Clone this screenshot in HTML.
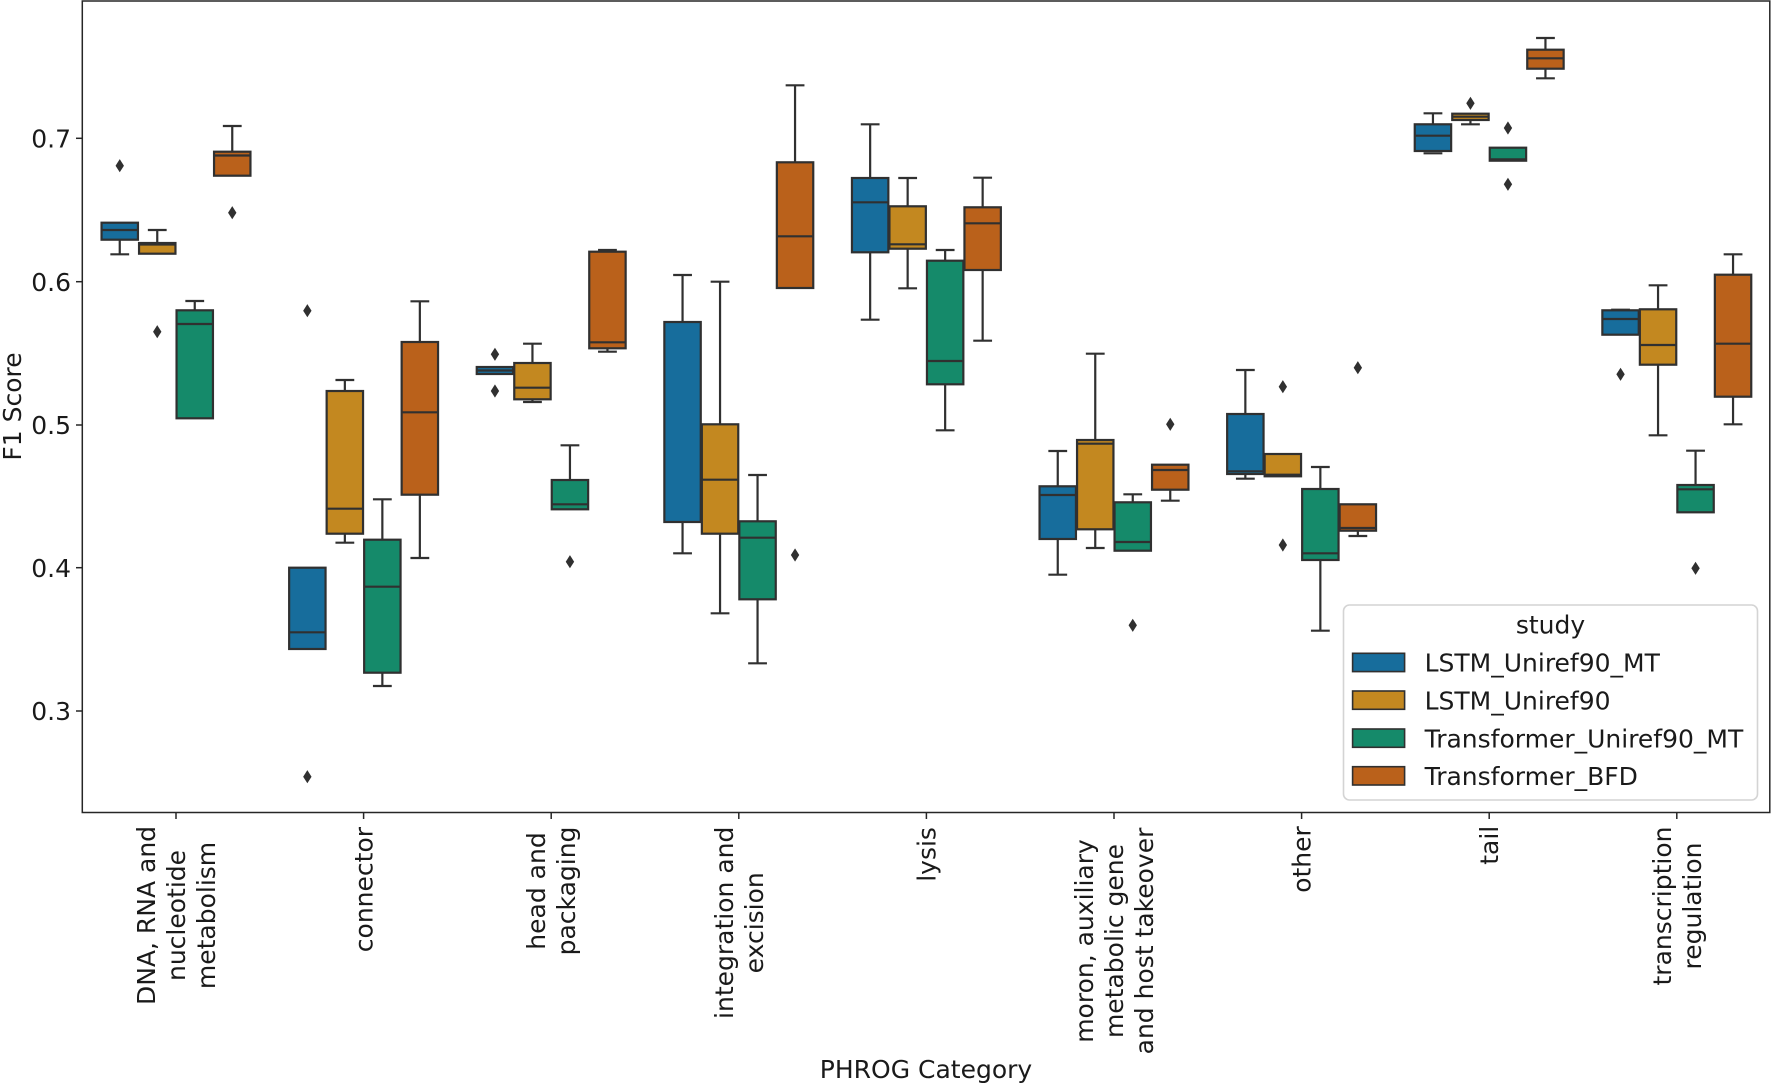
<!DOCTYPE html>
<html><head><meta charset="utf-8"><style>
html,body{margin:0;padding:0;background:#fff;}
svg{display:block;}
text{font-family:"DejaVu Sans","Liberation Sans",sans-serif;font-size:25px;fill:#1a1a1a;}
.bx line{stroke:#303030;stroke-width:2.2;}
.bx rect{stroke:#303030;stroke-width:2.2;}
.c0{fill:#176d9c}.c1{fill:#c38820}.c2{fill:#158a6a}.c3{fill:#ba611b}
</style></head><body>
<svg width="1772" height="1085" viewBox="0 0 1772 1085" xmlns="http://www.w3.org/2000/svg">
<defs><path id="dm" d="M0,-6.6 L4.2,0 L0,6.6 L-4.2,0Z" fill="#303030"/></defs>
<rect x="0" y="0" width="1772" height="1085" fill="#fff"/>

<!-- Group 0 -->
<g class="bx" transform="translate(119.75,0)"><line x1="0" y1="239.7" x2="0" y2="254.3"/><line x1="-9.4" y1="254.3" x2="9.4" y2="254.3"/><rect class="c0" x="-18.2" y="222.7" width="36.4" height="17"/><line x1="-18.2" y1="230" x2="18.2" y2="230"/><use href="#dm" y="165.7"/></g>
<g class="bx" transform="translate(157.25,0)"><line x1="0" y1="230" x2="0" y2="243"/><line x1="-9.4" y1="230" x2="9.4" y2="230"/><rect class="c1" x="-18.2" y="243" width="36.4" height="10.7"/><line x1="-18.2" y1="244.5" x2="18.2" y2="244.5"/><use href="#dm" y="331.7"/></g>
<g class="bx" transform="translate(194.75,0)"><line x1="0" y1="301" x2="0" y2="310.3"/><line x1="-9.4" y1="301" x2="9.4" y2="301"/><rect class="c2" x="-18.2" y="310.3" width="36.4" height="108"/><line x1="-18.2" y1="324" x2="18.2" y2="324"/></g>
<g class="bx" transform="translate(232.25,0)"><line x1="0" y1="126" x2="0" y2="151.7"/><line x1="-9.4" y1="126" x2="9.4" y2="126"/><rect class="c3" x="-18.2" y="151.7" width="36.4" height="24"/><line x1="-18.2" y1="155.5" x2="18.2" y2="155.5"/><use href="#dm" y="212.7"/></g>

<!-- Group 1 -->
<g class="bx" transform="translate(307.35,0)"><rect class="c0" x="-18.2" y="567.7" width="36.4" height="81.3"/><line x1="-18.2" y1="632.3" x2="18.2" y2="632.3"/><use href="#dm" y="310.7"/><use href="#dm" y="776.7"/></g>
<g class="bx" transform="translate(344.85,0)"><line x1="0" y1="380" x2="0" y2="391"/><line x1="0" y1="533.7" x2="0" y2="542.7"/><line x1="-9.4" y1="380" x2="9.4" y2="380"/><line x1="-9.4" y1="542.7" x2="9.4" y2="542.7"/><rect class="c1" x="-18.2" y="391" width="36.4" height="142.7"/><line x1="-18.2" y1="508.7" x2="18.2" y2="508.7"/></g>
<g class="bx" transform="translate(382.35,0)"><line x1="0" y1="499.3" x2="0" y2="539.7"/><line x1="0" y1="672.7" x2="0" y2="686"/><line x1="-9.4" y1="499.3" x2="9.4" y2="499.3"/><line x1="-9.4" y1="686" x2="9.4" y2="686"/><rect class="c2" x="-18.2" y="539.7" width="36.4" height="133"/><line x1="-18.2" y1="586.7" x2="18.2" y2="586.7"/></g>
<g class="bx" transform="translate(419.85,0)"><line x1="0" y1="301.3" x2="0" y2="342"/><line x1="0" y1="494.7" x2="0" y2="558"/><line x1="-9.4" y1="301.3" x2="9.4" y2="301.3"/><line x1="-9.4" y1="558" x2="9.4" y2="558"/><rect class="c3" x="-18.2" y="342" width="36.4" height="152.7"/><line x1="-18.2" y1="412.3" x2="18.2" y2="412.3"/></g>

<!-- Group 2 -->
<g class="bx" transform="translate(494.95,0)"><rect class="c0" x="-18.2" y="367" width="36.4" height="7"/><line x1="-18.2" y1="370.5" x2="18.2" y2="370.5"/><use href="#dm" y="354.3"/><use href="#dm" y="391"/></g>
<g class="bx" transform="translate(532.45,0)"><line x1="0" y1="343.7" x2="0" y2="363"/><line x1="0" y1="399.3" x2="0" y2="402"/><line x1="-9.4" y1="343.7" x2="9.4" y2="343.7"/><line x1="-9.4" y1="402" x2="9.4" y2="402"/><rect class="c1" x="-18.2" y="363" width="36.4" height="36.3"/><line x1="-18.2" y1="387.7" x2="18.2" y2="387.7"/></g>
<g class="bx" transform="translate(569.95,0)"><line x1="0" y1="445.3" x2="0" y2="480"/><line x1="-9.4" y1="445.3" x2="9.4" y2="445.3"/><rect class="c2" x="-18.2" y="480" width="36.4" height="29.3"/><line x1="-18.2" y1="504.3" x2="18.2" y2="504.3"/><use href="#dm" y="561.7"/></g>
<g class="bx" transform="translate(607.45,0)"><line x1="-9.4" y1="250" x2="9.4" y2="250"/><line x1="0" y1="348.3" x2="0" y2="351.7"/><line x1="-9.4" y1="351.7" x2="9.4" y2="351.7"/><rect class="c3" x="-18.2" y="251.7" width="36.4" height="96.6"/><line x1="-18.2" y1="342.3" x2="18.2" y2="342.3"/></g>

<!-- Group 3 -->
<g class="bx" transform="translate(682.55,0)"><line x1="0" y1="275" x2="0" y2="322"/><line x1="0" y1="522" x2="0" y2="553.3"/><line x1="-9.4" y1="275" x2="9.4" y2="275"/><line x1="-9.4" y1="553.3" x2="9.4" y2="553.3"/><rect class="c0" x="-18.2" y="322" width="36.4" height="200"/></g>
<g class="bx" transform="translate(720.05,0)"><line x1="0" y1="281.7" x2="0" y2="424.3"/><line x1="0" y1="533.7" x2="0" y2="613.3"/><line x1="-9.4" y1="281.7" x2="9.4" y2="281.7"/><line x1="-9.4" y1="613.3" x2="9.4" y2="613.3"/><rect class="c1" x="-18.2" y="424.3" width="36.4" height="109.4"/><line x1="-18.2" y1="479.7" x2="18.2" y2="479.7"/></g>
<g class="bx" transform="translate(757.55,0)"><line x1="0" y1="475" x2="0" y2="521.3"/><line x1="0" y1="599.3" x2="0" y2="663.3"/><line x1="-9.4" y1="475" x2="9.4" y2="475"/><line x1="-9.4" y1="663.3" x2="9.4" y2="663.3"/><rect class="c2" x="-18.2" y="521.3" width="36.4" height="78"/><line x1="-18.2" y1="537.7" x2="18.2" y2="537.7"/></g>
<g class="bx" transform="translate(795.05,0)"><line x1="0" y1="85.3" x2="0" y2="162.3"/><line x1="-9.4" y1="85.3" x2="9.4" y2="85.3"/><rect class="c3" x="-18.2" y="162.3" width="36.4" height="125.7"/><line x1="-18.2" y1="236.3" x2="18.2" y2="236.3"/><use href="#dm" y="555"/></g>

<!-- Group 4 -->
<g class="bx" transform="translate(870.15,0)"><line x1="0" y1="124.3" x2="0" y2="178"/><line x1="0" y1="252.3" x2="0" y2="319.7"/><line x1="-9.4" y1="124.3" x2="9.4" y2="124.3"/><line x1="-9.4" y1="319.7" x2="9.4" y2="319.7"/><rect class="c0" x="-18.2" y="178" width="36.4" height="74.3"/><line x1="-18.2" y1="202.3" x2="18.2" y2="202.3"/></g>
<g class="bx" transform="translate(907.65,0)"><line x1="0" y1="178" x2="0" y2="206.3"/><line x1="0" y1="248.7" x2="0" y2="288.3"/><line x1="-9.4" y1="178" x2="9.4" y2="178"/><line x1="-9.4" y1="288.3" x2="9.4" y2="288.3"/><rect class="c1" x="-18.2" y="206.3" width="36.4" height="42.4"/><line x1="-18.2" y1="244.3" x2="18.2" y2="244.3"/></g>
<g class="bx" transform="translate(945.15,0)"><line x1="0" y1="250" x2="0" y2="260.7"/><line x1="0" y1="384.3" x2="0" y2="430.3"/><line x1="-9.4" y1="250" x2="9.4" y2="250"/><line x1="-9.4" y1="430.3" x2="9.4" y2="430.3"/><rect class="c2" x="-18.2" y="260.7" width="36.4" height="123.6"/><line x1="-18.2" y1="361" x2="18.2" y2="361"/></g>
<g class="bx" transform="translate(982.65,0)"><line x1="0" y1="177.7" x2="0" y2="207.3"/><line x1="0" y1="270" x2="0" y2="340.7"/><line x1="-9.4" y1="177.7" x2="9.4" y2="177.7"/><line x1="-9.4" y1="340.7" x2="9.4" y2="340.7"/><rect class="c3" x="-18.2" y="207.3" width="36.4" height="62.7"/><line x1="-18.2" y1="223.3" x2="18.2" y2="223.3"/></g>

<!-- Group 5 -->
<g class="bx" transform="translate(1057.75,0)"><line x1="0" y1="451" x2="0" y2="486.3"/><line x1="0" y1="539" x2="0" y2="574.7"/><line x1="-9.4" y1="451" x2="9.4" y2="451"/><line x1="-9.4" y1="574.7" x2="9.4" y2="574.7"/><rect class="c0" x="-18.2" y="486.3" width="36.4" height="52.7"/><line x1="-18.2" y1="495" x2="18.2" y2="495"/></g>
<g class="bx" transform="translate(1095.25,0)"><line x1="0" y1="353.7" x2="0" y2="440"/><line x1="0" y1="529.3" x2="0" y2="548"/><line x1="-9.4" y1="353.7" x2="9.4" y2="353.7"/><line x1="-9.4" y1="548" x2="9.4" y2="548"/><rect class="c1" x="-18.2" y="440" width="36.4" height="89.3"/><line x1="-18.2" y1="443.7" x2="18.2" y2="443.7"/></g>
<g class="bx" transform="translate(1132.75,0)"><line x1="0" y1="494.3" x2="0" y2="502.3"/><line x1="-9.4" y1="494.3" x2="9.4" y2="494.3"/><rect class="c2" x="-18.2" y="502.3" width="36.4" height="48.4"/><line x1="-18.2" y1="542" x2="18.2" y2="542"/><use href="#dm" y="625.3"/></g>
<g class="bx" transform="translate(1170.25,0)"><line x1="0" y1="489.7" x2="0" y2="500.7"/><line x1="-9.4" y1="500.7" x2="9.4" y2="500.7"/><rect class="c3" x="-18.2" y="464.7" width="36.4" height="25"/><line x1="-18.2" y1="470" x2="18.2" y2="470"/><use href="#dm" y="424.3"/></g>

<!-- Group 6 -->
<g class="bx" transform="translate(1245.35,0)"><line x1="0" y1="370" x2="0" y2="414"/><line x1="0" y1="474" x2="0" y2="478.7"/><line x1="-9.4" y1="370" x2="9.4" y2="370"/><line x1="-9.4" y1="478.7" x2="9.4" y2="478.7"/><rect class="c0" x="-18.2" y="414" width="36.4" height="60"/><line x1="-18.2" y1="471.3" x2="18.2" y2="471.3"/></g>
<g class="bx" transform="translate(1282.85,0)"><rect class="c1" x="-18.2" y="454" width="36.4" height="22.3"/><line x1="-18.2" y1="474.7" x2="18.2" y2="474.7"/><use href="#dm" y="386.7"/><use href="#dm" y="545"/></g>
<g class="bx" transform="translate(1320.35,0)"><line x1="0" y1="467" x2="0" y2="489"/><line x1="0" y1="560" x2="0" y2="630.7"/><line x1="-9.4" y1="467" x2="9.4" y2="467"/><line x1="-9.4" y1="630.7" x2="9.4" y2="630.7"/><rect class="c2" x="-18.2" y="489" width="36.4" height="71"/><line x1="-18.2" y1="553.3" x2="18.2" y2="553.3"/></g>
<g class="bx" transform="translate(1357.85,0)"><line x1="0" y1="530.7" x2="0" y2="536"/><line x1="-9.4" y1="536" x2="9.4" y2="536"/><rect class="c3" x="-18.2" y="504.3" width="36.4" height="26.4"/><line x1="-18.2" y1="528" x2="18.2" y2="528"/><use href="#dm" y="367.7"/></g>

<!-- Group 7 -->
<g class="bx" transform="translate(1432.95,0)"><line x1="0" y1="113.3" x2="0" y2="124.3"/><line x1="-9.4" y1="113.3" x2="9.4" y2="113.3"/><line x1="-9.4" y1="153.3" x2="9.4" y2="153.3"/><rect class="c0" x="-18.2" y="124.3" width="36.4" height="26.7"/><line x1="-18.2" y1="135.7" x2="18.2" y2="135.7"/></g>
<g class="bx" transform="translate(1470.45,0)"><line x1="0" y1="120" x2="0" y2="124.3"/><line x1="-9.4" y1="124.3" x2="9.4" y2="124.3"/><rect class="c1" x="-18.2" y="113.7" width="36.4" height="6.3"/><line x1="-18.2" y1="116.7" x2="18.2" y2="116.7"/><use href="#dm" y="103.3"/></g>
<g class="bx" transform="translate(1507.95,0)"><rect class="c2" x="-18.2" y="147.7" width="36.4" height="13"/><line x1="-18.2" y1="159.3" x2="18.2" y2="159.3"/><use href="#dm" y="128"/><use href="#dm" y="184.3"/></g>
<g class="bx" transform="translate(1545.45,0)"><line x1="0" y1="38" x2="0" y2="49.7"/><line x1="0" y1="68.7" x2="0" y2="78.3"/><line x1="-9.4" y1="38" x2="9.4" y2="38"/><line x1="-9.4" y1="78.3" x2="9.4" y2="78.3"/><rect class="c3" x="-18.2" y="49.7" width="36.4" height="19"/><line x1="-18.2" y1="58.3" x2="18.2" y2="58.3"/></g>

<!-- Group 8 -->
<g class="bx" transform="translate(1620.55,0)"><line x1="-9.4" y1="309.7" x2="9.4" y2="309.7"/><rect class="c0" x="-18.2" y="310.3" width="36.4" height="24.4"/><line x1="-18.2" y1="319" x2="18.2" y2="319"/><use href="#dm" y="374.3"/></g>
<g class="bx" transform="translate(1658.05,0)"><line x1="0" y1="285.3" x2="0" y2="309.3"/><line x1="0" y1="364.7" x2="0" y2="435.3"/><line x1="-9.4" y1="285.3" x2="9.4" y2="285.3"/><line x1="-9.4" y1="435.3" x2="9.4" y2="435.3"/><rect class="c1" x="-18.2" y="309.3" width="36.4" height="55.4"/><line x1="-18.2" y1="345" x2="18.2" y2="345"/></g>
<g class="bx" transform="translate(1695.55,0)"><line x1="0" y1="450.7" x2="0" y2="485"/><line x1="-9.4" y1="450.7" x2="9.4" y2="450.7"/><rect class="c2" x="-18.2" y="485" width="36.4" height="27.3"/><line x1="-18.2" y1="489.3" x2="18.2" y2="489.3"/><use href="#dm" y="568.3"/></g>
<g class="bx" transform="translate(1733.05,0)"><line x1="0" y1="254.3" x2="0" y2="274.7"/><line x1="0" y1="396.7" x2="0" y2="424.3"/><line x1="-9.4" y1="254.3" x2="9.4" y2="254.3"/><line x1="-9.4" y1="424.3" x2="9.4" y2="424.3"/><rect class="c3" x="-18.2" y="274.7" width="36.4" height="122"/><line x1="-18.2" y1="343.7" x2="18.2" y2="343.7"/></g>

<!-- Legend -->
<rect x="1343.5" y="605" width="414" height="195" rx="6" ry="6" fill="#fff" fill-opacity="0.85" stroke="#d4d4d4" stroke-width="1.6"/>
<text x="1550.5" y="633.5" text-anchor="middle">study</text>
<rect class="c0" x="1352.6" y="653.3" width="52" height="18.3" stroke="#303030" stroke-width="1.6"/>
<rect class="c1" x="1352.6" y="691" width="52" height="18.3" stroke="#303030" stroke-width="1.6"/>
<rect class="c2" x="1352.6" y="729" width="52" height="18.3" stroke="#303030" stroke-width="1.6"/>
<rect class="c3" x="1352.6" y="766.7" width="52" height="18.3" stroke="#303030" stroke-width="1.6"/>
<text x="1424.6" y="671.6">LSTM_Uniref90_MT</text>
<text x="1424.6" y="709.3">LSTM_Uniref90</text>
<text x="1424.6" y="747.3">Transformer_Uniref90_MT</text>
<text x="1424.6" y="785">Transformer_BFD</text>

<!-- Axes frame -->
<rect x="82.3" y="1" width="1687.5" height="811.5" fill="none" stroke="#262626" stroke-width="1.5"/>

<!-- Y ticks -->
<g stroke="#262626" stroke-width="1.5">
<line x1="76" y1="138.3" x2="82.3" y2="138.3"/>
<line x1="76" y1="281.7" x2="82.3" y2="281.7"/>
<line x1="76" y1="425" x2="82.3" y2="425"/>
<line x1="76" y1="567.7" x2="82.3" y2="567.7"/>
<line x1="76" y1="711" x2="82.3" y2="711"/>
</g>
<g text-anchor="end">
<text x="71" y="147.4">0.7</text>
<text x="71" y="290.8">0.6</text>
<text x="71" y="434.1">0.5</text>
<text x="71" y="576.8">0.4</text>
<text x="71" y="720.1">0.3</text>
</g>

<!-- X ticks -->
<g stroke="#262626" stroke-width="1.5">
<line x1="176" y1="812.5" x2="176" y2="819"/>
<line x1="363.6" y1="812.5" x2="363.6" y2="819"/>
<line x1="551.2" y1="812.5" x2="551.2" y2="819"/>
<line x1="738.8" y1="812.5" x2="738.8" y2="819"/>
<line x1="926.4" y1="812.5" x2="926.4" y2="819"/>
<line x1="1114" y1="812.5" x2="1114" y2="819"/>
<line x1="1301.6" y1="812.5" x2="1301.6" y2="819"/>
<line x1="1489.2" y1="812.5" x2="1489.2" y2="819"/>
<line x1="1676.8" y1="812.5" x2="1676.8" y2="819"/>
</g>

<!-- X tick labels (rotated) -->
<g text-anchor="middle">
<text transform="translate(155,915.5) rotate(-90)">DNA, RNA and</text>
<text transform="translate(185,915.5) rotate(-90)">nucleotide</text>
<text transform="translate(215,915.5) rotate(-90)">metabolism</text>

<text transform="translate(372.6,889.6) rotate(-90)">connector</text>

<text transform="translate(545.2,891) rotate(-90)">head and</text>
<text transform="translate(575.2,891) rotate(-90)">packaging</text>

<text transform="translate(732.8,922.8) rotate(-90)">integration and</text>
<text transform="translate(762.8,922.8) rotate(-90)">excision</text>

<text transform="translate(935.4,854.4) rotate(-90)">lysis</text>

<text transform="translate(1093,941) rotate(-90)">moron, auxiliary</text>
<text transform="translate(1123,941) rotate(-90)">metabolic gene</text>
<text transform="translate(1153,941) rotate(-90)">and host takeover</text>

<text transform="translate(1310.6,859.5) rotate(-90)">other</text>

<text transform="translate(1498.2,845.3) rotate(-90)">tail</text>

<text transform="translate(1670.8,906) rotate(-90)">transcription</text>
<text transform="translate(1700.8,906) rotate(-90)">regulation</text>
</g>

<!-- Axis labels -->
<text x="926" y="1078" text-anchor="middle">PHROG Category</text>
<text transform="translate(21,406.5) rotate(-90)" text-anchor="middle">F1 Score</text>
</svg>
</body></html>
